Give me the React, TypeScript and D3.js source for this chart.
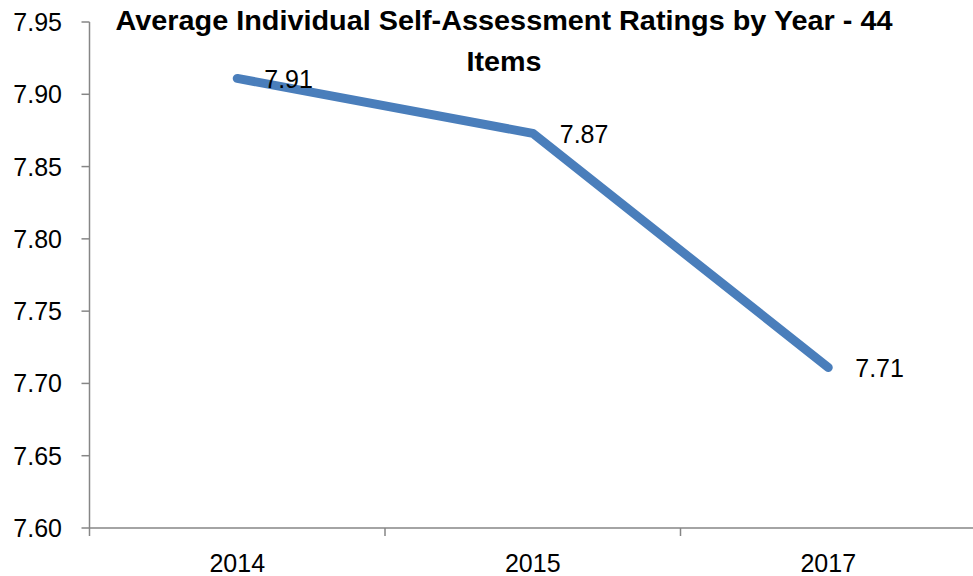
import React from "react";
import * as d3 from "d3";

const categories = ["2014", "2015", "2017"];
const values = [7.911, 7.873, 7.711];
const labels = ["7.91", "7.87", "7.71"];
const yTicks = [7.6, 7.65, 7.7, 7.75, 7.8, 7.85, 7.9, 7.95];
const titleLines = ["Average Individual Self-Assessment Ratings by Year - 44", "Items"];

const W = 973;
const H = 576;
const left = 89.5;
const right = 976;
const top = 22;
const bottom = 528;
const font = "'Liberation Sans', Arial, sans-serif";
const fs = 25;

export default function App() {
  const x = d3.scaleBand<string>().domain(categories).range([left, right]);
  const y = d3.scaleLinear().domain([7.6, 7.95]).range([bottom, top]);
  const line = d3
    .line<number>()
    .x((_, i) => (x(categories[i]) as number) + x.bandwidth() / 2)
    .y((d) => y(d));
  const tickXs = [...categories.map((c) => x(c) as number), right];
  const titleWidths = [777, 75];

  return (
    <svg
      width={W}
      height={H}
      style={{ position: "absolute", left: 0, top: 0, background: "#fff" }}
      fontFamily={font}
    >
      {/* y axis */}
      <line x1={left} x2={left} y1={top} y2={bottom} stroke="#868686" strokeWidth={1.5} />
      {yTicks.map((t) => (
        <g key={t}>
          <line x1={left - 8} x2={left} y1={y(t)} y2={y(t)} stroke="#868686" strokeWidth={1.5} />
          <text x={62} y={y(t)} dy="0.36em" textAnchor="end" fontSize={fs} fill="#000">
            {t.toFixed(2)}
          </text>
        </g>
      ))}
      {/* x axis */}
      <line x1={left} x2={right} y1={bottom} y2={bottom} stroke="#868686" strokeWidth={1.5} />
      {tickXs.map((tx, i) => (
        <line key={i} x1={tx} x2={tx} y1={bottom} y2={bottom + 8} stroke="#868686" strokeWidth={1.5} />
      ))}
      {categories.map((c) => (
        <text
          key={c}
          x={(x(c) as number) + x.bandwidth() / 2}
          y={571.5}
          textAnchor="middle"
          fontSize={fs}
          fill="#000"
        >
          {c}
        </text>
      ))}
      {/* series */}
      <path
        d={line(values) || ""}
        fill="none"
        stroke="#4a7ebb"
        strokeWidth={9}
        strokeLinecap="round"
        strokeLinejoin="round"
      />
      {values.map((v, i) => (
        <text
          key={i}
          x={(x(categories[i]) as number) + x.bandwidth() / 2 + 27}
          y={y(v) + 9.5}
          fontSize={fs}
          fill="#000"
        >
          {labels[i]}
        </text>
      ))}
      {/* title */}
      {titleLines.map((t, i) => (
        <text
          key={i}
          x={504}
          y={30 + i * 41}
          textAnchor="middle"
          fontSize={28.5}
          fontWeight="bold"
          fill="#000"
          textLength={titleWidths[i]}
          lengthAdjust="spacingAndGlyphs"
        >
          {t}
        </text>
      ))}
    </svg>
  );
}
